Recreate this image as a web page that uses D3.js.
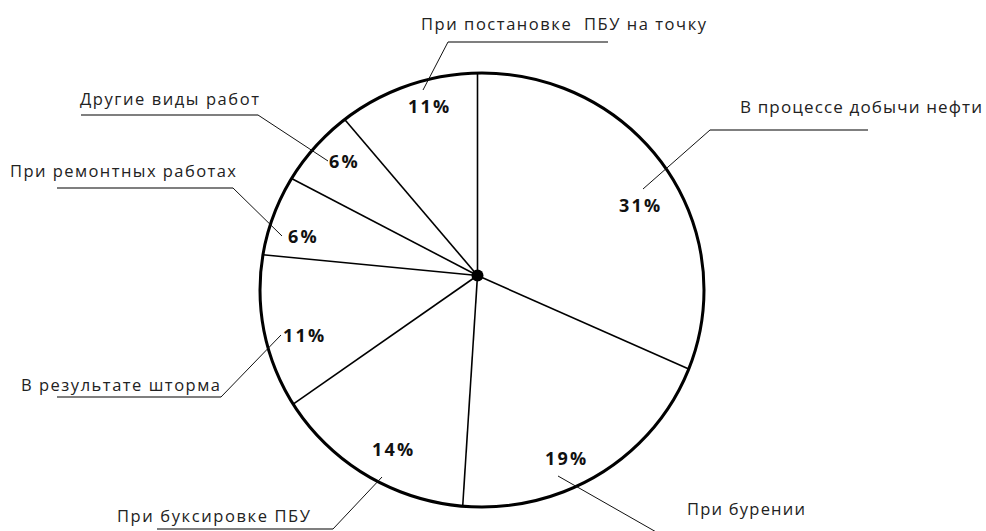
<!DOCTYPE html>
<html lang="ru">
<head>
<meta charset="utf-8">
<script src="https://cdn.jsdelivr.net/npm/d3@7/dist/d3.min.js"></script>
<style>
  html, body { margin: 0; padding: 0; background: #fff; }
  svg { display: block; }
  text { font-family: "Open Sans", "Noto Sans", sans-serif; white-space: pre; }
</style>
</head>
<body>
<svg id="chart" width="986" height="531"></svg>
<script>
// Причины аварий: доля по видам работ, по часовой стрелке от 12 часов
const categories = [
  "В процессе добычи нефти",
  "При бурении",
  "При буксировке ПБУ",
  "В результате шторма",
  "При ремонтных работах",
  "Другие виды работ",
  "При постановке  ПБУ на точку"
];
const values = [31, 19, 14, 11, 6, 6, 11];
const valueLabels = values.map(v => v + "%");

// Подписи-выноски: текст (x, y, кегль, ширина), полка [x1, x2, y], излом, кончик у сектора, подпись доли
const callouts = [
  { tx: 740, ty: 113, fs: 17,   tw: 242, shelf: [710, 868, 130], knee: 710, tip: [643, 189], px: 619, py: 212 },
  { tx: 687, ty: 515, fs: 16.5, tw: 118, shelf: [665, 820, 537], knee: 665, tip: [558, 476], px: 545, py: 465 },
  { tx: 117, ty: 522, fs: 16.5, tw: 193, shelf: [157, 333, 529], knee: 333, tip: [382, 477], px: 372, py: 456 },
  { tx: 21,  ty: 391, fs: 16.5, tw: 199, shelf: [57, 221, 397],  knee: 221, tip: [281, 335], px: 283, py: 342 },
  { tx: 10,  ty: 177, fs: 16.5, tw: 226, shelf: [57, 233, 188],  knee: 233, tip: [282, 236], px: 288, py: 243 },
  { tx: 80,  ty: 105, fs: 16.5, tw: 179, shelf: [81, 258, 115],  knee: 258, tip: [328, 161], px: 329, py: 168 },
  { tx: 421, ty: 30,  fs: 16.5, tw: 285, shelf: [448, 608, 42],  knee: 448, tip: [423, 90],  px: 408, py: 113 }
];

const svg = d3.select("#chart");

// Обод диаграммы и точка схода радиусов
const rim = { cx: 482, cy: 290, rx: 222, ry: 217 };
const hub = { x: 477.5, y: 275.5 };

const pie = d3.pie().sort(null).value(d => d)(values);

// Точка, где луч из центра под углом a (от 12 часов по часовой) пересекает обод
function rimPoint(a) {
  const dx = Math.sin(a), dy = -Math.cos(a);
  const ox = (hub.x - rim.cx) / rim.rx, oy = (hub.y - rim.cy) / rim.ry;
  const ux = dx / rim.rx, uy = dy / rim.ry;
  const A = ux * ux + uy * uy;
  const B = 2 * (ox * ux + oy * uy);
  const C = ox * ox + oy * oy - 1;
  const t = (-B + Math.sqrt(B * B - 4 * A * C)) / (2 * A);
  return [hub.x + t * dx, hub.y + t * dy];
}

const g = svg.append("g");

// Белые секторы
g.selectAll("path.slice")
  .data(pie)
  .join("path")
  .attr("class", "slice")
  .attr("fill", "#fff")
  .attr("d", d => {
    const p = d3.path();
    p.moveTo(hub.x, hub.y);
    const steps = 60;
    for (let i = 0; i <= steps; i++) {
      const a = d.startAngle + (d.endAngle - d.startAngle) * i / steps;
      const [x, y] = rimPoint(a);
      p.lineTo(x, y);
    }
    p.closePath();
    return p.toString();
  });

// Радиусы-границы секторов
g.selectAll("line.spoke")
  .data(pie)
  .join("line")
  .attr("class", "spoke")
  .attr("x1", hub.x).attr("y1", hub.y)
  .attr("x2", d => rimPoint(d.startAngle)[0])
  .attr("y2", d => rimPoint(d.startAngle)[1])
  .attr("stroke", "#000")
  .attr("stroke-width", 1.6);

// Обод
g.append("ellipse")
  .attr("cx", rim.cx).attr("cy", rim.cy)
  .attr("rx", rim.rx).attr("ry", rim.ry)
  .attr("fill", "none")
  .attr("stroke", "#000")
  .attr("stroke-width", 3);

// Центр
g.append("circle")
  .attr("cx", hub.x).attr("cy", hub.y)
  .attr("r", 6)
  .attr("fill", "#000");

// Выноски
const co = svg.append("g");
callouts.forEach((c, i) => {
  const [x1, x2, y] = c.shelf;
  // полка
  co.append("line")
    .attr("x1", x1).attr("x2", x2).attr("y1", y).attr("y2", y)
    .attr("stroke", "#555").attr("stroke-width", 1.4);
  // наклонная линия от излома к сектору
  co.append("line")
    .attr("x1", c.knee).attr("y1", y)
    .attr("x2", c.tip[0]).attr("y2", c.tip[1])
    .attr("stroke", "#111").attr("stroke-width", 1);
  co.append("text")
    .attr("x", c.tx).attr("y", c.ty)
    .attr("font-size", c.fs)
    .attr("textLength", c.tw)
    .attr("lengthAdjust", "spacing")
    .attr("fill", "#222")
    .text(categories[i]);
  co.append("text")
    .attr("x", c.px).attr("y", c.py)
    .attr("font-size", 18)
    .attr("font-weight", "bold")
    .attr("letter-spacing", 2.2)
    .attr("fill", "#111")
    .text(valueLabels[i]);
});
</script>
</body>
</html>
